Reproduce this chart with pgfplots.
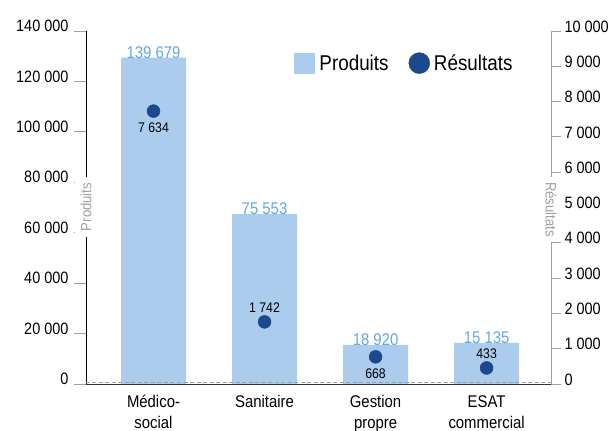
\documentclass[border=0pt]{standalone}
\usepackage{fontspec}
\setmainfont[FakeStretch=0.88]{Liberation Sans}
\usepackage{pgfplots}
\pgfplotsset{compat=1.18}
\definecolor{barblue}{RGB}{171,204,236}
\definecolor{dotblue}{RGB}{28,72,140}
\definecolor{lblblue}{RGB}{98,168,226}
\definecolor{axgray}{RGB}{160,160,160}
\newcommand{\fs}{\fontsize{16.5}{21}\selectfont}
\newcommand{\fc}{\fontsize{17}{21}\selectfont}
\newcommand{\fl}{\fontsize{14}{17}\selectfont}
\newcommand{\fa}{\fontsize{15}{18}\selectfont}
\begin{document}
\begin{tikzpicture}
\useasboundingbox (-86bp,-47bp) rectangle (529bp,384bp);
\begin{axis}[
  at={(0,0)}, anchor=south west,
  scale only axis, width=465bp, height=353bp,
  xmin=-0.608, xmax=3.58, ymin=0, ymax=140000,
  axis y line*=left, axis x line*=bottom,
  x axis line style={black!80, line width=0.9bp},
  y axis line style={black, line width=0.9bp},
  scaled y ticks=false,
  ytick={0,20000,40000,60000,80000,100000,120000,140000},
  yticklabels={0,20 000,40 000,60 000,80 000,100 000,120 000,140 000},
  tick align=outside,
  major tick length=12bp,
  ytick style={axgray, line width=0.9bp},
  yticklabel style={font=\fs, yshift=5bp, xshift=-2bp},
  xtick={0,1,2,3},
  xticklabels={{Médico-\\social},{Sanitaire},{Gestion\\propre},{ESAT\\commercial}},
  xtick style={draw=none},
  xticklabel style={align=center, font=\fc, yshift=4bp},
  every axis y label/.style={at={(axis description cs:0,0.493)}, anchor=center, rotate=90, xshift=3bp, fill=white, text=axgray, inner sep=5.5bp, font=\fa},
  ylabel={Produits},
  clip=false,
]
\addplot[ybar, bar width=65bp, fill=barblue, draw=none,
  nodes near coords, point meta=explicit symbolic,
  nodes near coords style={text=lblblue, font=\fc, anchor=south, inner sep=0bp, yshift=-1bp}]
  coordinates {(0,129400)[139 679] (1,67400)[75 553] (2,15500)[18 920] (3,16300)[15 135]};
\draw[axgray, dash pattern=on 4bp off 2.5bp, line width=1bp] ([yshift=2bp]rel axis cs:0,0) -- ([yshift=2bp]rel axis cs:1,0);
\draw[black!80, line width=0.9bp] (rel axis cs:0,0) -- (rel axis cs:1,0);
\end{axis}
\begin{axis}[
  at={(0,0)}, anchor=south west,
  scale only axis, width=465bp, height=353bp,
  xmin=-0.608, xmax=3.58, ymin=0, ymax=10000,
  axis y line*=right, axis x line=none,
  y axis line style={axgray, line width=0.9bp},
  scaled y ticks=false,
  ytick={0,1000,2000,3000,4000,5000,6000,7000,8000,9000,10000},
  yticklabels={0,1 000,2 000,3 000,4 000,5 000,6 000,7 000,8 000,9 000,10 000},
  tick align=outside,
  major tick length=10bp,
  ytick style={axgray, line width=0.9bp},
  yticklabel style={font=\fs, yshift=4.5bp},
  every axis y label/.style={at={(axis description cs:1,0.480)}, anchor=center, rotate=-90, xshift=-5bp, fill=white, text=axgray, inner sep=5.5bp, font=\fa},
  ylabel={Résultats},
  clip=false,
  legend style={at={(rel axis cs:0.447,0.909)}, anchor=west, draw=none, fill=none, inner sep=0pt,
    legend columns=2, font=\fontsize{21.5}{24}\selectfont,
    /tikz/every even column/.append style={column sep=18bp}},
  legend cell align=left,
]
\addlegendimage{legend image code/.code={\fill[barblue] (0bp,-10bp) rectangle (20bp,10bp);}}
\addlegendentry{\hspace{3bp}Produits}
\addplot[only marks, mark=*, mark size=6.5bp, color=dotblue,
  legend image code/.code={\fill[dotblue] (10.5bp,0bp) circle (10.5bp);}]
  coordinates {(0,7730) (1,1760) (2,770) (3,455)};
\addlegendentry{\hspace{2bp}Résultats}
\addplot[forget plot, draw=none, mark=none, nodes near coords, point meta=explicit symbolic,
  nodes near coords style={text=black, font=\fl, anchor=south, inner sep=0bp, yshift=9.5bp}]
  coordinates {(1,1760)[1 742] (3,455)[433]};
\addplot[forget plot, draw=none, mark=none, nodes near coords, point meta=explicit symbolic,
  nodes near coords style={text=black, font=\fl, anchor=north, inner sep=0bp, yshift=-11.5bp}]
  coordinates {(0,7730)[7 634] (2,770)[668]};
\end{axis}
\end{tikzpicture}
\end{document}
